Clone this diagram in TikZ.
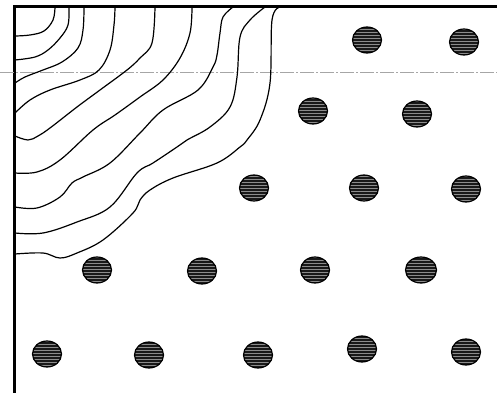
\documentclass[tikz,border=0pt]{standalone}
\usetikzlibrary{shapes.geometric,patterns}
\tikzset{
  contour/.style={line width=1.2pt, line join=round, line cap=round},
  frameline/.style={line width=3pt},
  axisline/.style={line width=0.5pt, gray!70, dash pattern=on 14pt off 2pt on 2pt off 2pt},
  dot/.style={ellipse, draw=black, line width=1.2pt, minimum width=29pt, minimum height=26pt, inner sep=0pt,
    preaction={fill=black!90}, pattern=horizontal lines, pattern color=black!45}
}
\begin{document}
\begin{tikzpicture}[x=1pt,y=-1pt]
\useasboundingbox (0,0) rectangle (497,393);
% frame
\coordinate (tl) at (14,7);
\coordinate (tr) at (497,7);
\coordinate (bl) at (14,393);
\draw[frameline] (tr) -- (tl) -- (bl);
% dash-dot line
\coordinate (la) at (0,72.5);
\coordinate (lb) at (497,72.5);
\draw[axisline] (la) -- (lb);
% contours
\draw[contour] plot[smooth, tension=0.6] coordinates {(55,7) (53,20) (44,31) (30,35) (15,36)};
\draw[contour] plot[smooth, tension=0.6] coordinates {(69,7) (68,25) (60,38) (48,50) (35,57) (15,60)};
\draw[contour] plot[smooth, tension=0.6] coordinates {(84,7) (83,30) (78,48) (62,62) (43,70) (25,77) (15,83)};
\draw[contour] plot[smooth, tension=0.6] coordinates {(115,7) (114,25) (110,50) (99,70) (80,80) (50,90) (30,100) (15,113)};
\draw[contour] plot[smooth, tension=0.6] coordinates {(155,7) (152,43) (140,58) (127,70) (100,90) (77,107) (50,128) (38,136) (28,140) (15,136)};
\draw[contour] plot[smooth, tension=0.6] coordinates {(192,7) (190,33) (180,58) (163,80) (140,97) (115,115) (93,130) (60,160) (37,172) (15,173)};
\draw[contour] plot[smooth, tension=0.6] coordinates {(233,7) (223,17) (220,33) (217,55) (213,67) (198,90) (163,110) (140,133) (110,163) (83,177) (72,183) (60,197) (37,208) (15,207)};
\draw[contour] plot[smooth, tension=0.6] coordinates {(265,7) (250,20) (240,37) (237,77) (230,107) (210,127) (187,140) (177,147) (153,163) (137,173) (110,207) (77,222) (43,233) (15,233)};
\draw[contour] plot[smooth, tension=0.6] coordinates {(280,7) (272,20) (270,83) (260,120) (247,140) (240,147) (217,163) (173,178) (150,190) (140,200) (133,213) (103,240) (77,253) (60,258) (43,253) (15,254)};
% dots
\node[dot] (d1) at (367,40) {};
\node[dot] (d2) at (464,42) {};
\node[dot] (d3) at (313,111) {};
\node[dot] (d4) at (417,114) {};
\node[dot] (d5) at (254,188) {};
\node[dot] (d6) at (364,188) {};
\node[dot] (d7) at (466,189) {};
\node[dot] (d8) at (97,270) {};
\node[dot] (d9) at (202,271) {};
\node[dot] (d10) at (315,270) {};
\node[dot,minimum width=31pt] (d11) at (421,270) {};
\node[dot] (d12) at (47,354) {};
\node[dot] (d13) at (149,355) {};
\node[dot] (d14) at (258,355) {};
\node[dot] (d15) at (362,349) {};
\node[dot] (d16) at (466,352) {};
\end{tikzpicture}
\end{document}
